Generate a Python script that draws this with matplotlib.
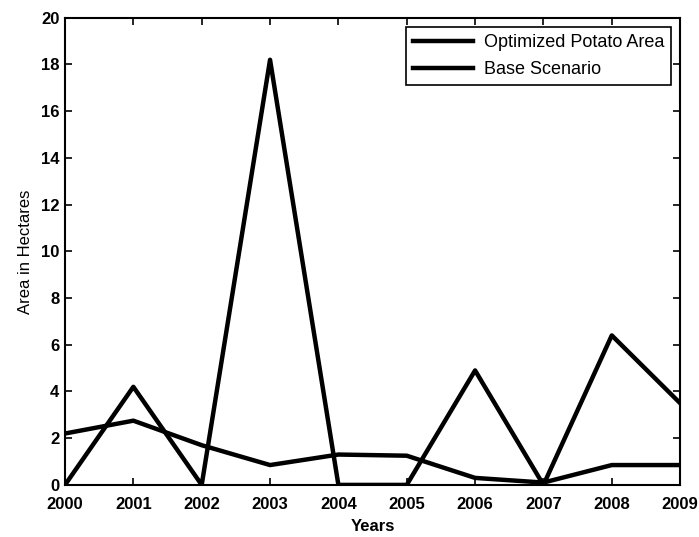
import numpy as np
import matplotlib.pyplot as plt

plt.rcParams['font.family'] = ['Liberation Sans', 'DejaVu Sans']

years = [2000, 2001, 2002, 2003, 2004, 2005, 2006, 2007, 2008, 2009]
optimized = [0.0, 4.2, 0.0, 18.2, 0.0, 0.0, 4.9, 0.0, 6.4, 3.5]
base = [2.2, 2.75, 1.7, 0.85, 1.3, 1.25, 0.3, 0.1, 0.85, 0.85]

fig = plt.figure(figsize=(6.99, 5.37), dpi=100)
ax = fig.add_axes([0.093, 0.097, 0.880, 0.870])

ax.plot(years, optimized, color='black', lw=3.2, label='Optimized Potato Area')
ax.plot(years, base, color='black', lw=3.2, label='Base Scenario')

ax.set_xlim(2000, 2009)
ax.set_ylim(0, 20)
ax.set_xticks(years)
ax.set_yticks(np.arange(0, 21, 2))
ax.tick_params(direction='in', top=True, right=True, length=5, width=1.2,
               labelsize=12, pad=4)
ax.tick_params(axis='x', pad=9)
for lbl in ax.get_xticklabels() + ax.get_yticklabels():
    lbl.set_fontweight('bold')
for s in ax.spines.values():
    s.set_linewidth(1.5)

ax.set_xlabel('Years', fontsize=12, fontweight='bold', labelpad=5)
ax.set_ylabel('Area in Hectares', fontsize=12, labelpad=6)

leg = ax.legend(loc='upper right', fontsize=13, fancybox=False,
                edgecolor='black', framealpha=1, handlelength=3.3,
                handletextpad=0.6, labelspacing=0.55, borderaxespad=0.5)
leg.get_frame().set_linewidth(1.2)

fig.savefig('out.png', dpi=100)
